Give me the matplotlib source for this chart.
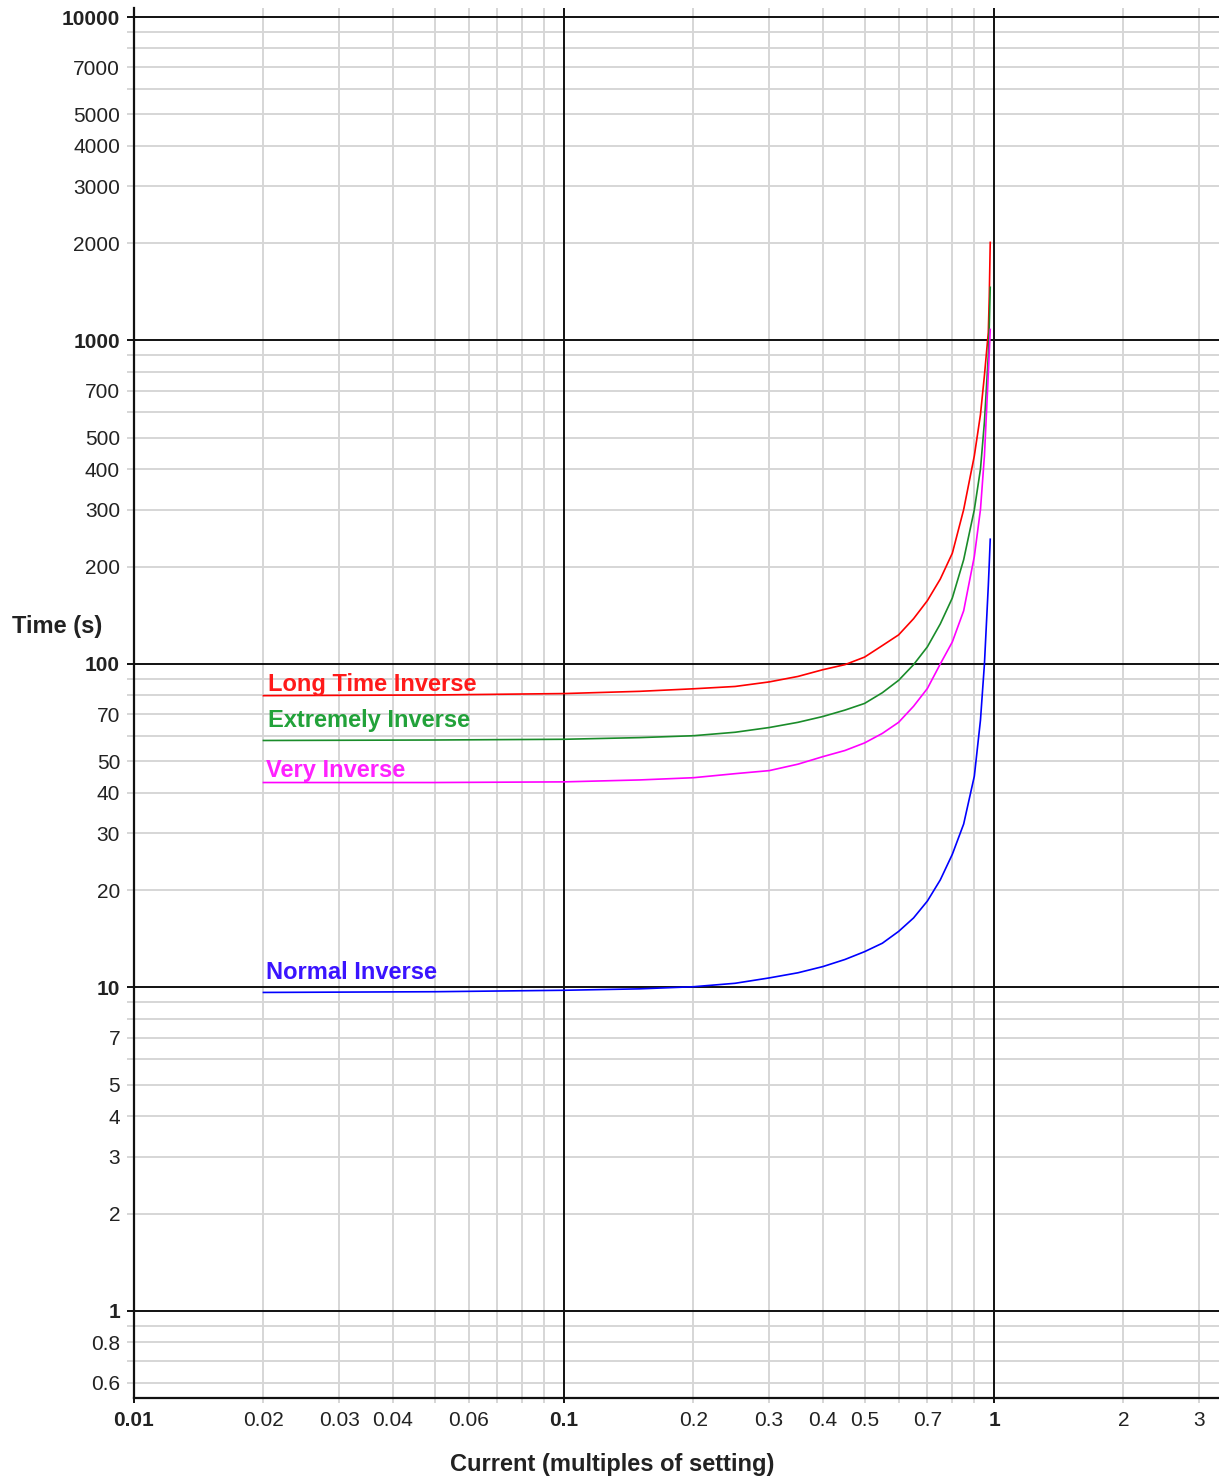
import matplotlib
matplotlib.use("Agg")
import matplotlib.pyplot as plt

plt.rcParams['font.family'] = ['Liberation Sans', 'DejaVu Sans']

# current in multiples of setting
current = [0.02, 0.05, 0.1, 0.15, 0.2, 0.25, 0.3, 0.35, 0.4, 0.45, 0.5, 0.55,
           0.6, 0.65, 0.7, 0.75, 0.8, 0.85, 0.9, 0.93, 0.95, 0.97, 0.975, 0.98]

# trip times (s)
long_time_inverse = [79.8, 80.2, 81.0, 82.3, 83.8, 85.2, 88.0, 91.5, 96.0, 99.5, 105, 114,
                     123, 138, 157, 183, 220, 300, 440, 590, 780, 1060, 1368, 2010]
extremely_inverse = [58.0, 58.2, 58.5, 59.2, 60.0, 61.5, 63.6, 66.0, 68.8, 72.0, 75.5, 81.5,
                     89, 99.5, 113, 133, 160, 210, 300, 400, 560, 900, 1100, 1460]
very_inverse = [43.0, 43.0, 43.2, 43.8, 44.5, 45.8, 46.8, 49.0, 51.7, 54.0, 57.0, 61.0,
                66, 74, 84, 100, 117, 146, 215, 300, 440, 790, 920, 1082]
normal_inverse = [9.65, 9.7, 9.8, 9.9, 10.05, 10.3, 10.7, 11.1, 11.6, 12.2, 12.9, 13.7,
                  14.9, 16.4, 18.5, 21.5, 25.8, 32, 45, 67, 100, 175, 205, 243]

series_names = ['Long Time Inverse', 'Extremely Inverse', 'Very Inverse', 'Normal Inverse']

x_major = [0.01, 0.1, 1]
x_minor = [0.02, 0.03, 0.04, 0.05, 0.06, 0.07, 0.08, 0.09,
           0.2, 0.3, 0.4, 0.5, 0.6, 0.7, 0.8, 0.9, 2, 3]
x_minor_labels = ['0.02', '0.03', '0.04', '', '0.06', '', '', '',
                  '0.2', '0.3', '0.4', '0.5', '', '0.7', '', '', '2', '3']

y_major = [1, 10, 100, 1000, 10000]
y_minor = [0.6, 0.7, 0.8, 0.9,
           2, 3, 4, 5, 6, 7, 8, 9,
           20, 30, 40, 50, 60, 70, 80, 90,
           200, 300, 400, 500, 600, 700, 800, 900,
           2000, 3000, 4000, 5000, 6000, 7000, 8000, 9000]
y_minor_labels = ['0.6', '', '0.8', '',
                  '2', '3', '4', '5', '', '7', '', '',
                  '20', '30', '40', '50', '', '70', '', '',
                  '200', '300', '400', '500', '', '700', '', '',
                  '2000', '3000', '4000', '5000', '', '7000', '', '']

W, H = 1219, 1481
fig = plt.figure(figsize=(W / 100, H / 100), dpi=100)
ax = fig.add_axes([134 / W, 83 / H, (W - 134) / W, 1390 / H])
ax.set_xscale('log')
ax.set_yscale('log')
ax.set_xlim(0.01, 3.336)
ax.set_ylim(0.538, 10662)

ax.set_xticks(x_major)
ax.set_xticklabels(['0.01', '0.1', '1'], fontweight='bold')
ax.set_xticks(x_minor, minor=True)
ax.set_xticklabels(x_minor_labels, minor=True)
ax.set_yticks(y_major)
ax.set_yticklabels(['1', '10', '100', '1000', '10000'], fontweight='bold')
ax.set_yticks(y_minor, minor=True)
ax.set_yticklabels(y_minor_labels, minor=True)

# light minor grid below, black decade lines drawn on top of it
grey = '#d6d6d6'
ax.grid(which='minor', color=grey, lw=1.4)
ax.set_axisbelow(True)
for xv in x_major:
    ax.axvline(xv, color='#111111', lw=1.4, zorder=1)
for yv in y_major:
    ax.axhline(yv, color='#111111', lw=1.4, zorder=1)

ax.tick_params(which='both', labelsize=15, labelcolor='#222222')
ax.tick_params(axis='y', which='major', length=5, width=1.4, color='#111111', pad=5)
ax.tick_params(axis='y', which='minor', length=5, width=1.4, color=grey, pad=5)
ax.tick_params(axis='x', which='major', length=3.6, width=1.4, color='#111111', pad=6)
ax.tick_params(axis='x', which='minor', length=3.6, width=1.4, color=grey, pad=6)

for side in ['top', 'right']:
    ax.spines[side].set_visible(False)
for side in ['left', 'bottom']:
    ax.spines[side].set_color('#111111')
    ax.spines[side].set_linewidth(1.6)

line_colors = ['#ff0000', '#1a8c2a', '#ff00ff', '#0000ff']
text_colors = ['#ff1a1a', '#22a23a', '#ff22ff', '#3a14ff']
label_offsets = [(3, 3.6), (3, 9.4), (1.5, 4.3), (1.5, 9.4)]
all_series = [long_time_inverse, extremely_inverse, very_inverse, normal_inverse]

for name, times, lc, tc, off in zip(series_names, all_series, line_colors, text_colors, label_offsets):
    ax.plot(current, times, color=lc, lw=1.2, zorder=3)
    ax.annotate(name, xy=(current[0], times[0]), xytext=off, textcoords='offset points',
                ha='left', va='baseline', color=tc, fontsize=17, fontweight='bold', zorder=4)

fig.text(12 / W, 1 - 626 / H, 'Time (s)', ha='left', va='center',
         fontsize=17, fontweight='bold', color='#222222')
fig.text(612 / W, 1 - 1465 / H, 'Current (multiples of setting)', ha='center', va='center',
         fontsize=17, fontweight='bold', color='#222222')

fig.savefig('out.png', dpi=100, facecolor='white')
